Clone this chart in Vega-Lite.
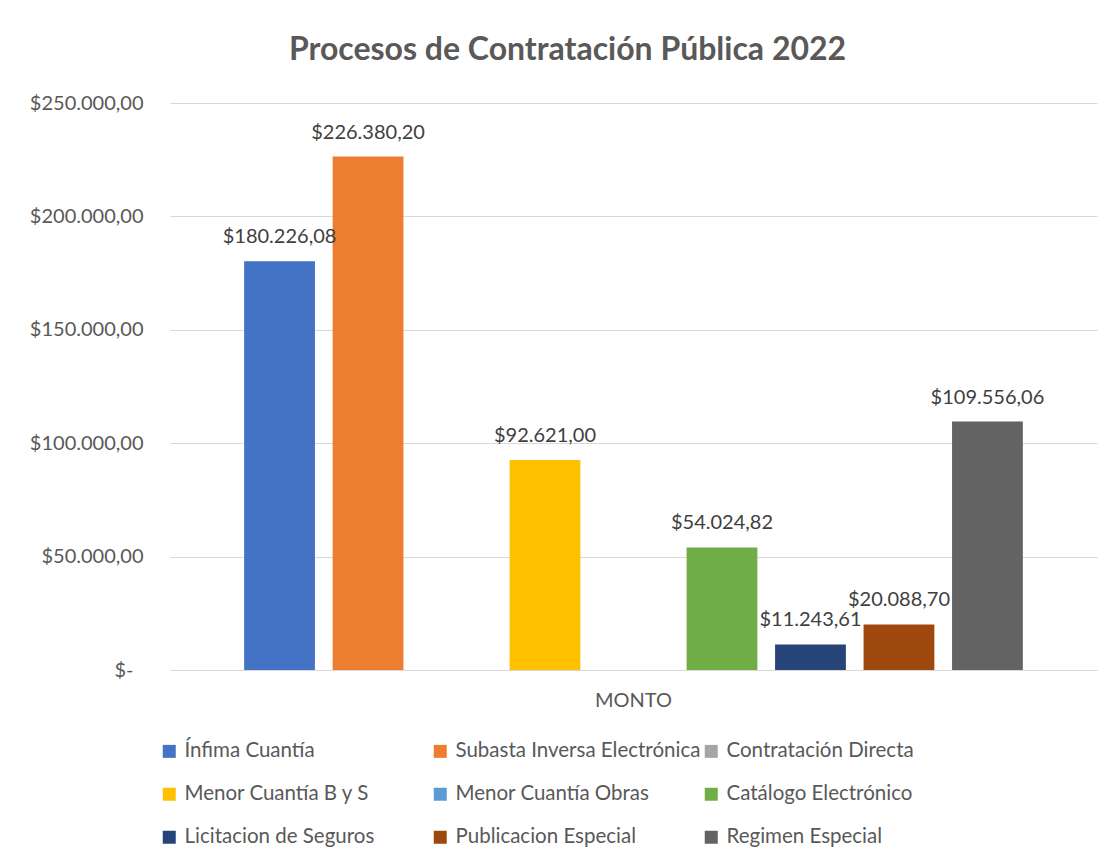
{
  "$schema": "https://vega.github.io/schema/vega-lite/v6.json",
  "width": 927,
  "height": 567,
  "autosize": {"type": "none"},
  "padding": {"left": 170, "top": 103, "right": 18, "bottom": 191},
  "config": {
    "locale": {"number": {"decimal": ",", "thousands": ".", "grouping": [3], "currency": ["$", ""]}},
    "view": {"stroke": null},
    "font": "Lato"
  },
  "title": {
    "text": "Procesos de Contratación Pública 2022",
    "font": "Lato",
    "fontSize": 32,
    "fontWeight": "bold",
    "color": "#595959",
    "anchor": "middle",
    "dx": -66,
    "offset": 26
  },
  "data": {
    "values": [
      {"categoria": "MONTO", "serie": "Ínfima Cuantía", "monto": 180226.08},
      {"categoria": "MONTO", "serie": "Subasta Inversa Electrónica", "monto": 226380.20},
      {"categoria": "MONTO", "serie": "Contratación Directa", "monto": null},
      {"categoria": "MONTO", "serie": "Menor Cuantía B y S", "monto": 92621.00},
      {"categoria": "MONTO", "serie": "Menor Cuantía Obras", "monto": null},
      {"categoria": "MONTO", "serie": "Catálogo Electrónico", "monto": 54024.82},
      {"categoria": "MONTO", "serie": "Licitacion de Seguros", "monto": 11243.61},
      {"categoria": "MONTO", "serie": "Publicacion Especial", "monto": 20088.70},
      {"categoria": "MONTO", "serie": "Regimen Especial", "monto": 109556.06}
    ]
  },
  "encoding": {
    "x": {
      "field": "categoria",
      "type": "nominal",
      "scale": {"paddingOuter": 0.082, "paddingInner": 0},
      "axis": {
        "title": null,
        "labelAngle": 0,
        "domainColor": "#d9d9d9",
        "domainWidth": 1,
        "ticks": false,
        "labelFont": "Lato",
        "labelFontSize": 20,
        "labelColor": "#595959",
        "labelPadding": 20
      }
    },
    "xOffset": {
      "field": "serie",
      "type": "nominal",
      "scale": {
        "domain": ["Ínfima Cuantía", "Subasta Inversa Electrónica", "Contratación Directa", "Menor Cuantía B y S", "Menor Cuantía Obras", "Catálogo Electrónico", "Licitacion de Seguros", "Publicacion Especial", "Regimen Especial"],
        "paddingInner": 0.2,
        "paddingOuter": 0.1
      }
    },
    "y": {
      "field": "monto",
      "type": "quantitative",
      "scale": {"domain": [0, 250000], "nice": false},
      "axis": {
        "title": null,
        "values": [0, 50000, 100000, 150000, 200000, 250000],
        "grid": true,
        "gridColor": "#d9d9d9",
        "gridWidth": 1,
        "domain": false,
        "ticks": false,
        "labelFont": "Lato",
        "labelFontSize": 20,
        "labelColor": "#595959",
        "labelPadding": {"condition": {"test": "datum.value == 0", "value": 37}, "value": 27},
        "labelExpr": "datum.value == 0 ? '$-' : format(datum.value, '$,.2f')"
      }
    }
  },
  "layer": [
    {
      "mark": {"type": "bar"},
      "encoding": {
        "color": {
          "field": "serie",
          "type": "nominal",
          "scale": {
            "domain": ["Ínfima Cuantía", "Subasta Inversa Electrónica", "Contratación Directa", "Menor Cuantía B y S", "Menor Cuantía Obras", "Catálogo Electrónico", "Licitacion de Seguros", "Publicacion Especial", "Regimen Especial"],
            "range": ["#4472C4", "#ED7D31", "#A5A5A5", "#FFC000", "#5B9BD5", "#70AD47", "#264478", "#9E480E", "#636363"]
          },
          "legend": {
            "title": null,
            "orient": "none",
            "legendX": -11,
            "legendY": 638,
            "columns": 3,
            "direction": "horizontal",
            "gridAlign": "all",
            "columnPadding": -7,
            "rowPadding": 22,
            "symbolType": "square",
            "symbolSize": 169,
            "symbolStrokeWidth": 0,
            "symbolOpacity": 1,
            "labelFont": "Lato",
            "labelFontSize": 20.5,
            "labelColor": "#595959",
            "labelOffset": 5,
            "labelLimit": 400
          }
        }
      }
    },
    {
      "mark": {"type": "text", "baseline": "middle", "dy": -24, "fontSize": 20, "color": "#404040", "font": "Lato"},
      "transform": [{"filter": "isValid(datum.monto)"}],
      "encoding": {
        "text": {"field": "monto", "type": "quantitative", "format": "$,.2f"}
      }
    }
  ]
}
